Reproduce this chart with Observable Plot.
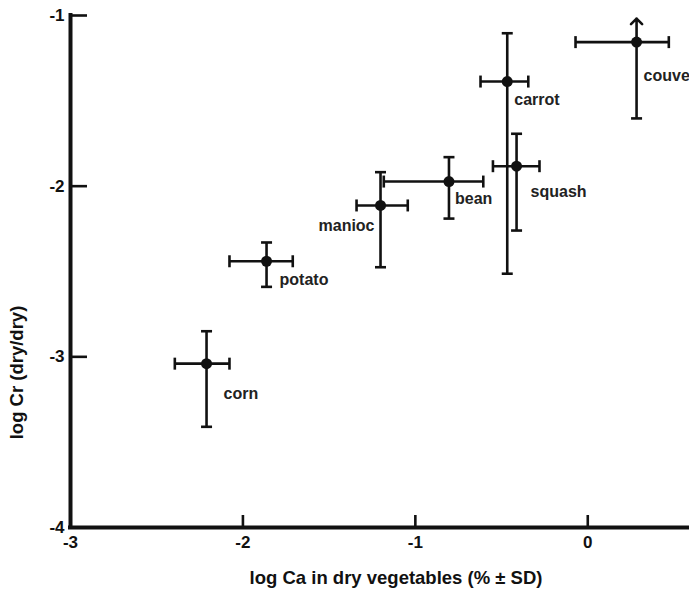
<!DOCTYPE html>
<html>
<head>
<meta charset="utf-8">
<script src="https://cdn.jsdelivr.net/npm/d3@7"></script>
<script src="https://cdn.jsdelivr.net/npm/@observablehq/plot@0.6"></script>
<style>
  html, body { margin: 0; padding: 0; background: #fff; overflow: hidden; }
  #chart svg { display: block; }
</style>
</head>
<body>
<div id="chart"></div>
<script>
// ---- Data ----
const vegetables = ["corn", "potato", "manioc", "bean", "carrot", "squash", "couve"];
const logCa      = [-2.211, -1.863, -1.202, -0.805, -0.467, -0.413, 0.283];
const logCaLow   = [-2.395, -2.078, -1.341, -1.183, -0.622, -0.550, -0.071];
const logCaHigh  = [-2.078, -1.711, -1.044, -0.606, -0.345, -0.280, 0.470];
const logCr      = [-3.04, -2.44, -2.113, -1.973, -1.387, -1.883, -1.156];
const logCrLow   = [-3.41, -2.59, -2.475, -2.19, -2.513, -2.26, -1.603];
const logCrHigh  = [-2.85, -2.33, -1.918, -1.83, -1.104, -1.693, -1.018];
const upperOpen  = [false, false, false, false, false, false, true];
const xTicks = [-3, -2, -1, 0];
const yTicks = [-1, -2, -3, -4];
const xTitle = "log Ca in dry vegetables (% ± SD)";
const yTitle = "log Cr (dry/dry)";

// ---- Table built from the arrays ----
const rows = vegetables.map((name, i) => ({
  name, x: logCa[i], xlo: logCaLow[i], xhi: logCaHigh[i],
  y: logCr[i], ylo: logCrLow[i], yhi: logCrHigh[i], open: upperOpen[i]
}));

// ---- Styling / layout ----
const ink = "#111";
const font = "'Liberation Sans', Arial, Helvetica, sans-serif";
const labelPlacement = {
  corn:   {dx: 17, dy: 30, anchor: "start"},
  potato: {dx: 13, dy: 19, anchor: "start"},
  manioc: {dx: -6, dy: 20, anchor: "end"},
  bean:   {dx: 6,  dy: 17, anchor: "start"},
  carrot: {dx: 7,  dy: 18, anchor: "start"},
  squash: {dx: 14, dy: 26, anchor: "start"},
  couve:  {dx: 7,  dy: 34, anchor: "start"}
};
const capH = {draw(ctx, size) { const r = Math.sqrt(size / Math.PI); ctx.moveTo(-r, 0); ctx.lineTo(r, 0); }};
const capV = {draw(ctx, size) { const r = Math.sqrt(size / Math.PI); ctx.moveTo(0, -r); ctx.lineTo(0, r); }};
const barW = 2.6;

const chart = Plot.plot({
  width: 689,
  height: 589,
  marginLeft: 70,
  marginRight: 0,
  marginTop: 15,
  marginBottom: 62,
  style: {fontFamily: font, fontWeight: "bold", fontSize: "17px", color: ink, background: "#fff"},
  x: {domain: [-3, 0.59], label: null},
  y: {domain: [-4, -1], label: null},
  marks: [
    // axis lines
    Plot.ruleX([-3], {stroke: ink, strokeWidth: 4, strokeLinecap: "square"}),
    Plot.ruleY([-4], {stroke: ink, strokeWidth: 4, strokeLinecap: "square"}),
    // axes with inward ticks
    Plot.axisY(yTicks, {anchor: "left", tickSize: -17, tickPadding: 23, stroke: ink, strokeWidth: 2.6,
      fill: ink, fontSize: 17, fontWeight: "bold", tickFormat: d => String(d).replace("\u2212", "-"), label: null}),
    Plot.axisX(xTicks, {anchor: "bottom", tickSize: -12, tickPadding: 20, stroke: ink, strokeWidth: 2.6,
      fill: ink, fontSize: 17, fontWeight: "bold", tickFormat: d => String(d).replace("\u2212", "-"), label: null}),
    // titles
    Plot.text([xTitle], {frameAnchor: "bottom", textAnchor: "middle", lineAnchor: "middle", dx: 16, dy: 51,
      fontSize: 18.5, fontWeight: "bold", fill: ink}),
    Plot.text([yTitle], {frameAnchor: "left", textAnchor: "middle", lineAnchor: "middle", dx: -53, dy: 101,
      rotate: -90, fontSize: 18.5, fontWeight: "bold", fill: ink}),
    // error bars
    Plot.ruleX(rows, {x: "x", y1: "ylo", y2: d => d.open ? d.y : d.yhi, stroke: ink, strokeWidth: barW}),
    Plot.ruleY(rows, {y: "y", x1: "xlo", x2: "xhi", stroke: ink, strokeWidth: barW}),
    Plot.arrow(rows.filter(d => d.open), {x1: "x", y1: "y", x2: "x", y2: "yhi", stroke: ink,
      strokeWidth: barW, headAngle: 90, headLength: 11}),
    Plot.dot(rows.filter(d => !d.open), {x: "x", y: "yhi", symbol: capH, r: 5.5, stroke: ink, strokeWidth: barW, fill: "none"}),
    Plot.dot(rows, {x: "x", y: "ylo", symbol: capH, r: 5.5, stroke: ink, strokeWidth: barW, fill: "none"}),
    Plot.dot(rows, {x: "xlo", y: "y", symbol: capV, r: 6, stroke: ink, strokeWidth: barW, fill: "none"}),
    Plot.dot(rows, {x: "xhi", y: "y", symbol: capV, r: 6, stroke: ink, strokeWidth: barW, fill: "none"}),
    // points
    Plot.dot(rows, {x: "x", y: "y", r: 5.5, fill: ink, stroke: "none"}),
    // labels
    ...vegetables.map(name => {
      const p = labelPlacement[name];
      return Plot.text(rows.filter(d => d.name === name), {x: "x", y: "y", text: "name",
        dx: p.dx, dy: p.dy, textAnchor: p.anchor, fontSize: 16, fontWeight: "bold", fill: "#222"});
    })
  ]
});
document.getElementById("chart").appendChild(chart);
</script>
</body>
</html>
